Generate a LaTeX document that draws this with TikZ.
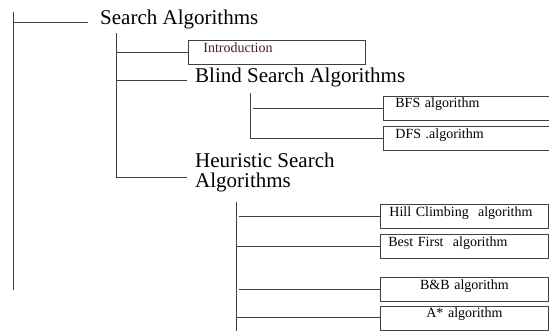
\documentclass[tikz,border=0pt]{standalone}
\usepackage{fontspec}
\setmainfont{Liberation Serif}
\usepackage{tikz}
\usetikzlibrary{positioning}
\definecolor{introink}{RGB}{70,25,60}

\begin{document}
\begin{tikzpicture}[x=1pt, y=-1pt,
  head/.style = {anchor=west, inner xsep=8pt, inner ysep=0pt, font=\fontsize{21}{20}\selectfont, text height=12pt, text depth=6pt},
  leaf/.style = {draw=black!75, line width=0.8pt, anchor=west, inner ysep=5pt, font=\fontsize{14}{16}\selectfont, text height=7pt, text depth=7pt, align=left},
  wire/.style = {draw=black!75, line width=0.9pt},
  gap/.style = {shorten <=3pt}]
          \useasboundingbox (0,0) rectangle (549,331);
          \node[head, inner xsep=12pt](sa) at (88,22) {Search Algorithms};
          \node[leaf, inner xsep=15pt, text width=147pt, text=introink](intro) at (188,52.5) {Introduction};
          \node[head](blind) at (187,80) {Blind Search Algorithms};
          \node[leaf, inner xsep=12pt, text width=142pt](bfs) at (383,108) {BFS algorithm};
          \node[leaf, inner xsep=12pt, text width=142pt, below=6pt of bfs](dfs) {DFS .algorithm};
          \node[head, align=left, text height=34pt, text depth=12pt](heur) at (187,177) {Heuristic Search\\Algorithms};
          \node[leaf, inner xsep=9pt, text width=150pt](hill) at (380,216.5) {Hill Climbing~~algorithm};
          \node[leaf, inner xsep=8pt, text width=152pt, below=5pt of hill](best) {Best First~~algorithm};
          \node[leaf, inner xsep=9pt, text width=150pt, align=center, below=18pt of best](bb) {B\&B algorithm};
          \node[leaf, inner xsep=9pt, text width=150pt, align=center, below=4pt of bb](astar) {A* algorithm};
          \coordinate (t1) at (13,12);
          \coordinate (t1end) at (13,290);
          \coordinate (t2) at (116,33);
          \coordinate (t3) at (250,93);
          \coordinate (t4) at (236,202);
          \coordinate (t4end) at (236,331);
          \draw[wire] (t1) -- (t1end);
          \draw[wire] (t1 |- sa.west) -- (sa.west);
          \draw[wire] (t2) -- (t2 |- heur.west);
          \draw[wire] (t2 |- intro.west) -- (intro.west);
          \draw[wire] (t2 |- blind.west) -- (blind.west);
          \draw[wire] (t2 |- heur.west) -- (heur.west);
          \draw[wire] (t3) -- (t3 |- dfs.west);
          \draw[wire, gap] (t3 |- bfs.west) -- (bfs.west);
          \draw[wire] (t3 |- dfs.west) -- (dfs.west);
          \draw[wire] (t4) -- (t4end);
          \draw[wire, gap] (t4 |- hill.west) -- (hill.west);
          \draw[wire] (t4 |- best.west) -- (best.west);
          \draw[wire, gap] (t4 |- bb.west) -- (bb.west);
          \draw[wire] (t4 |- astar.west) -- (astar.west);
        \end{tikzpicture}
\end{document}
